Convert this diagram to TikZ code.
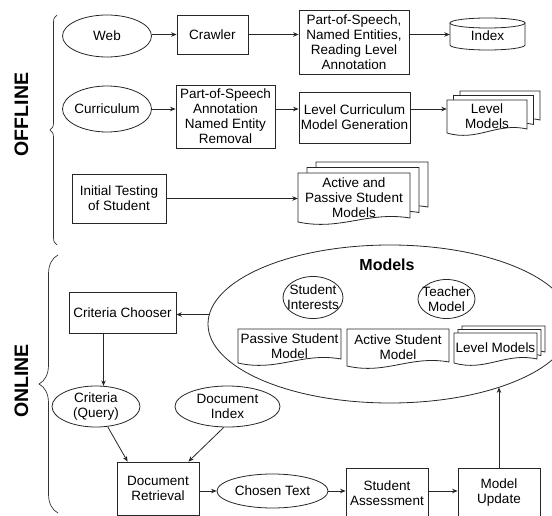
\documentclass[tikz,border=0pt]{standalone}
\usepackage{fontspec}
\setmainfont{Liberation Sans}
\usetikzlibrary{shapes.geometric,arrows.meta,decorations.pathreplacing,calc}
\newcommand\docpath[4]{%
  \draw[docline] ({#1},{#2}) -- ({#3},{#2}) -- ({#3},{#4-4})
    .. controls ({#1+0.62*(#3-#1)},{#4-11}) and ({#1+0.38*(#3-#1)},{#4+9}) .. ({#1},{#4}) -- cycle;}
\newcommand\docnode[6]{%
  \docpath{#2}{#3}{#4}{#5}%
  \node[minimum width={(#4-#2)*1pt}, minimum height={(#5-#3)*1pt}] (#1) at ({(#2+#4)/2},{(#3+#5)/2}) {#6};}
\begin{document}
\begin{tikzpicture}[x=1pt,y=-1pt,
  every node/.style={font=\fontsize{13.5}{15}\selectfont, align=center, inner sep=0pt},
  line/.style={line width=0.8pt, draw=black!85},
  box/.style={line, draw, rectangle},
  ell/.style={line, draw, ellipse},
  docline/.style={line, fill=white},
  arr/.style={line, -{Stealth[length=5.5pt,width=4.5pt]}},
  bracestyle/.style={line width=0.7pt, draw=black!80, decorate},
  lbl/.style={font=\fontsize{19.5}{20}\bfseries\selectfont, rotate=90},
]
\useasboundingbox (0,0) rectangle (552,516);
\clip (0,0) rectangle (552,516);

% ---------------- OFFLINE ----------------
\node[lbl] (off) at (21.5,114.5) {OFFLINE};
\draw[bracestyle, decoration={brace, amplitude=7pt}] (57,245) -- (57,15);

\node[ell, minimum width=89pt, minimum height=42pt, label={center:Web}] (web) at (107,36) {};
\node[box, minimum width=71pt, minimum height=39pt] (crawler) at (212.5,34.5) {Crawler};
\node[box, minimum width=110pt, minimum height=64pt] (pos1) at (354,42) {Part-of-Speech,\\Named Entities,\\Reading Level\\Annotation};
\draw[line] (450,23) -- (450,45) arc[start angle=180, end angle=360, x radius=37.5pt, y radius=5pt] -- (525,23);
\draw[line] (487.5,23) ellipse [x radius=37.5pt, y radius=5pt];
\node[minimum width=75pt, minimum height=32pt] (index) at (487.5,36) {Index};

\node[ell, minimum width=89pt, minimum height=46pt, label={center:Curriculum}] (curr) at (107,109) {};
\node[box, minimum width=99pt, minimum height=63pt] (pos2) at (225.5,116.5) {Part-of-Speech\\Annotation\\Named Entity\\Removal};
\node[box, minimum width=111pt, minimum height=51pt] (lcm) at (354.5,117.5) {Level Curriculum\\Model Generation};
\docpath{460}{91}{540}{124}
\docpath{453.5}{95.5}{533.5}{128.5}
\docnode{lm1}{447}{100}{527}{133}{Level\\Models}

\node[box, minimum width=94pt, minimum height=49pt] (init) at (119,198.5) {Initial Testing\\of Student};
\docpath{316}{162}{428}{211}
\docpath{307}{167.5}{419}{216.5}
\docnode{apsm}{298}{173}{410}{222}{Active and\\Passive Student\\Models}

\draw[arr] (web.east |- crawler.west) -- (crawler.west);
\draw[arr] (crawler.east) -- (crawler.east -| pos1.west);
\draw[arr] (pos1.east |- crawler.east) -- (crawler.east -| index.west);
\draw[arr] (curr.east) -- (curr.east -| pos2.west);
\draw[arr] (pos2.east |- curr.east) -- (curr.east -| lcm.west);
\draw[arr] (lcm.east |- curr.east) -- (curr.east -| lm1.west);
\draw[arr] (init.east) -- (init.east -| apsm.west);

% ---------------- ONLINE ----------------
\node[lbl] (on) at (21.5,381) {ONLINE};
\draw[bracestyle, decoration={brace, amplitude=19pt}] (58,513) -- (58,255);

\node[ell, minimum width=364pt, minimum height=158pt] (models) at (390,324) {};
\node[font=\fontsize{16}{16}\bfseries\selectfont] (modelslbl) at (387,265) {Models};
\node[ell, minimum width=60pt, minimum height=42pt, label={center:{Student\\Interests}}] (si) at (313,297.5) {};
\node[ell, minimum width=57pt, minimum height=39pt, label={center:{Teacher\\Model}}] (tm) at (446.5,299) {};
\docnode{psm}{238}{329}{341}{363}{Passive Student\\Model}
\docnode{asm}{347}{329}{449}{366}{Active Student\\Model}
\docpath{462}{326}{545}{356}
\docpath{458}{329.5}{541}{359.5}
\docnode{lm2}{454}{333}{537}{363}{Level Models}

\node[box, minimum width=107pt, minimum height=41pt] (cc) at (122.5,312.5) {Criteria Chooser};
\node[ell, minimum width=88pt, minimum height=41pt, label={center:{Criteria\\(Query)}}] (cq) at (96,406.5) {};
\node[ell, minimum width=105pt, minimum height=41pt, label={center:{Document\\Index}}] (di) at (227.5,406.5) {};
\node[box, minimum width=82pt, minimum height=53pt] (dr) at (158,488.5) {Document\\Retrieval};
\node[ell, minimum width=111pt, minimum height=34pt, label={center:Chosen Text}] (ct) at (272.5,491) {};
\node[box, minimum width=82pt, minimum height=50pt] (sa) at (387,493) {Student\\Assessment};
\node[box, minimum width=82pt, minimum height=50pt] (mu) at (499,493) {Model\\Update};

\draw[arr] (models.177) -- (models.177 -| cc.east);
\draw[arr] (cc.south -| cq.70) -- (cq.70);
\draw[arr] (cq.-60) -- ([xshift=11pt]dr.north west);
\draw[arr] (di.-100) -- ([xshift=-11pt]dr.north east);
\draw[arr] (dr.east |- ct.west) -- (ct.west);
\draw[arr] (ct.east) -- (ct.east -| sa.west);
\draw[arr] (sa.east |- ct.east) -- (ct.east -| mu.west);
\draw[arr] (mu.north) -- (mu.north |- models.-30);
\end{tikzpicture}
\end{document}
